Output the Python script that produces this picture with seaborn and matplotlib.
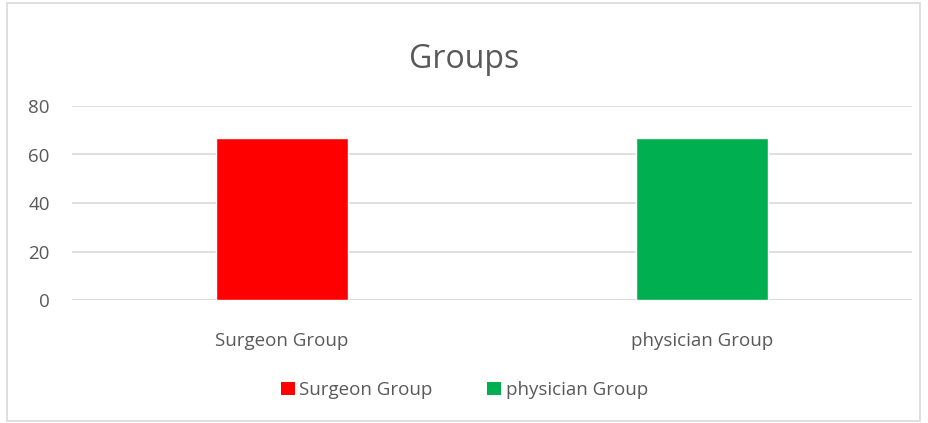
import matplotlib
matplotlib.use("Agg")
import matplotlib.pyplot as plt
import seaborn as sns
import pandas as pd
from matplotlib.patches import Rectangle, Patch

categories = ["Surgeon Group", "physician Group"]
values = [67, 67]
colors = ["#FF0000", "#00B050"]
yticks = [0, 20, 40, 60, 80]
title = "Groups"

sns.set_theme(style="white")
plt.rcParams['font.family'] = ['Open Sans', 'DejaVu Sans']
txt = "#595959"

df = pd.DataFrame({"cat": categories, "val": values})
fig = plt.figure(figsize=(9.29, 4.23), dpi=100)
ax = fig.add_axes([72/929, 1-300/423, 840/929, 194/423])
sns.barplot(data=df, x="cat", y="val", hue="cat", palette=colors, width=0.314,
            dodge=False, legend=False, ax=ax, saturation=1)
ax.set_xlim(-0.5, 1.5)
ax.set_ylim(0, 80)
ax.set_yticks(yticks)
ax.yaxis.grid(True, color="#D9D9D9", linewidth=1.2)
ax.set_axisbelow(True)
for s in ax.spines.values():
    s.set_visible(False)
ax.axhline(0, color="#D9D9D9", linewidth=1.2, zorder=0.5)
ax.set_xlabel("")
ax.set_ylabel("")
ax.tick_params(axis="both", colors=txt, labelsize=13.5, length=0)
ax.tick_params(axis="y", pad=16)
ax.tick_params(axis="x", pad=23)
fig.text(0.5, 1-60/423, title, ha="center", va="center", fontsize=23, color=txt)

handles = [Patch(facecolor=c, edgecolor="none") for c in colors]
fig.legend(handles, categories, loc="center", bbox_to_anchor=(0.5, 1-390/423), ncol=2,
           frameon=False, fontsize=13.5, labelcolor=txt, handlelength=0.75, handleheight=0.75,
           handletextpad=0.25, columnspacing=2.9)

fig.patches.append(Rectangle((7/929, 2/423), 913/929, 418/423, transform=fig.transFigure,
                             fill=False, edgecolor="#D9D9D9", linewidth=1.2))
fig.savefig("out.png", dpi=100)
